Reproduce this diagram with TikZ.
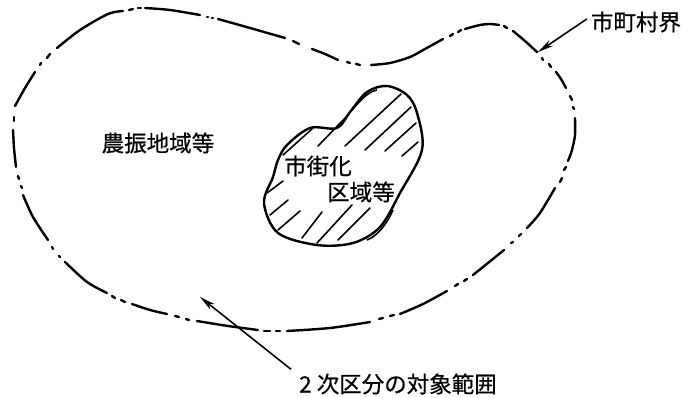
\documentclass[tikz,border=0pt]{standalone}
\usepackage{fontspec}
\newfontfamily\cjk[FakeBold=0.6]{Noto Sans CJK JP}
\usetikzlibrary{arrows.meta}
\tikzset{>={Stealth[length=16pt,width=7pt]}}
\tikzset{label22/.style={font=\cjk\fontsize{22.5}{24}\selectfont,inner sep=0pt}}
\tikzset{leader/.style={line width=1.6pt,->}}
\tikzset{hatchline/.style={line width=1.6pt,line cap=round}}
\tikzset{boundary/.style={line width=2.4pt,line cap=round}}

\begin{document}
\begin{tikzpicture}[x=1pt,y=-1pt]
\useasboundingbox (0,0) rectangle (686,398);
% outer line, long pieces
\draw[boundary] plot[smooth] coordinates {(15,106) (25,88) (35,72)};
\draw[boundary] plot[smooth] coordinates {(57,48) (80,30) (108,14) (123,11)};
\draw[boundary] plot[smooth] coordinates {(145,8) (170,10) (200,15)};
\draw[boundary] plot[smooth] coordinates {(218,19) (250,28) (285,38)};
\draw[boundary] plot[smooth] coordinates {(312,49) (325,54) (338,60)};
\draw[boundary] plot[smooth] coordinates {(371,65) (390,63) (410,57) (425,49) (443,39)};
\draw[boundary] plot[smooth] coordinates {(465,29) (480,25) (490,24) (499,25)};
\draw[boundary] plot[smooth] coordinates {(513,31) (525,41) (537,52)};
\draw[boundary] plot[smooth] coordinates {(556,72) (561,79) (566,88)};
\draw[boundary] plot[smooth] coordinates {(575,118) (575,135) (572,150) (568,161)};
\draw[boundary] plot[smooth] coordinates {(555,188) (540,213) (527,228)};
\draw[boundary] plot[smooth] coordinates {(504,250) (488,263) (473,275)};
\draw[boundary] plot[smooth] coordinates {(447,291) (423,304) (400,314)};
\draw[boundary] plot[smooth] coordinates {(370,322) (330,328) (287,331)};
\draw[boundary] plot[smooth] coordinates {(258,330) (228,326) (197,321)};
\draw[boundary] plot[smooth] coordinates {(167,314) (150,310) (132,304)};
\draw[boundary] plot[smooth] coordinates {(107,293) (87,282) (65,262)};
\draw[boundary] plot[smooth] coordinates {(48,240) (33,217) (23,195)};
\draw[boundary] plot[smooth] coordinates {(16,167) (14,148) (13,130)};
% outer line, short pieces
\foreach \ax/\ay/\bx/\by in {40/65/41/63,47/58/50/54,129/10/133/9,138/8/141/8,207/17/208/17,212/18/213/18,293/41/299/44,347/62/350/63,356/64/360/65,450/36/453/34,458/32/461/30,504/26/507/28,542/58/543/60,549/64/551/67,570/96/572/100,573/107/574/109,566/167/564/170,562/178/560/182,521/234/519/236,513/242/511/243,467/279/464/281,458/284/455/286,394/315/390/316,383/318/379/319,280/331/276/331,270/331/264/331,189/320/186/319,179/317/175/316,125/302/121/300,115/298/112/296,60/257/59/256,53/249/52/247,22/188/21/186,19/179/18/176,14/121/14/117}
\draw[boundary] (\ax,\ay)--(\bx,\by);
% inner area
\draw[line width=2.4pt] plot[smooth cycle,tension=0.55] coordinates {(278,160) (287,145) (310,128) (337,128) (350,112) (367,92) (387,86) (407,95) (417,113) (422,150) (400,193) (380,227) (353,243) (317,245) (278,233) (264,203) (273,177)};
\draw[line width=1.6pt] (350,112) .. controls (358,104) and (366,92) .. (377,90);
\draw[line width=1.6pt] (367,240) .. controls (378,236) and (388,222) .. (393,210);
\foreach \ax/\ay/\bx/\by in {283/155/312/129,318/146/349/114,345/146/401/94,365/150/411/107,385/151/416/123,402/156/418/142,267/193/283/181,270/215/288/200,278/230/300/211,302/238/322/212,317/243/352/205,338/240/370/208}
\draw[hatchline] (\ax,\ay)--(\bx,\by);
% labels
\node[label22] (farmlabel) at (158,143) {農振地域等};
\node[label22] (townlabel) at (318,166) {市街化};
\node[label22] (arealabel) at (361,192) {区域等};
\node[label22] (citylabel) at (636,22) {市町村界};
\node[label22] (scopelabel) at (398,384) {2 次区分の対象範囲};
\coordinate (linept) at (538,52);
\coordinate (scopept) at (200,297);
\draw[leader] (citylabel.west)++(-4,-3)--(linept);
\draw[leader] (scopelabel.north west)++(-8,-4)--(scopept);
\end{tikzpicture}
\end{document}
